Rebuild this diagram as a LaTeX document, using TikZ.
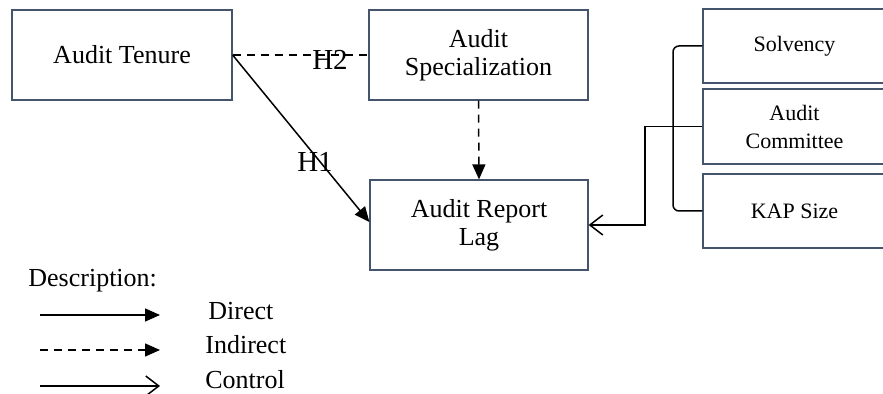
\documentclass[tikz,border=0pt]{standalone}
\usepackage{fontspec}
\setmainfont{Liberation Serif}
\usetikzlibrary{arrows.meta,calc}
\definecolor{boxline}{HTML}{44546A}
\begin{document}
\begin{tikzpicture}[x=0.5pt,y=-0.5pt,
  varbox/.style={draw=boxline,line width=0.6pt,rectangle,inner sep=0pt,align=center,
    font=\fontsize{13}{14}\selectfont},
  ctrlbox/.style={varbox,font=\fontsize{11}{14}\selectfont,
    minimum width=91.5pt},
  link/.style={line width=0.75pt,black},
  fillhead/.style={-{Triangle[length=7.5pt,width=6.5pt]}},
  openhead/.style={-{Straight Barb[length=6.5pt,width=10pt,line width=0.75pt]}},
  hyp/.style={font=\fontsize{14.5}{16}\selectfont,inner sep=0pt},
  legtext/.style={font=\fontsize{13}{14}\selectfont,inner sep=0pt}]
  \useasboundingbox (0,0) rectangle (883,394);

  % main variables
  \node[varbox,minimum width=110pt,minimum height=45pt] (tenure) at (122,55) {Audit Tenure};
  \node[varbox,minimum width=109.5pt,minimum height=45pt] (spec) at (478.5,55) {Audit\\Specialization};
  \node[varbox,minimum width=109pt,minimum height=45pt] (lag) at (479,225) {Audit Report\\Lag};

  % control variables
  \node[ctrlbox,minimum height=37pt] (solv) at (794.5,46) {Solvency};
  \node[ctrlbox,minimum height=37.5pt] (comm) at (794.5,126.5) {Audit\\Committee};
  \node[ctrlbox,minimum height=37pt] (kap) at (794.5,211) {KAP Size};

  % hypotheses
  \draw[link,fillhead] (tenure.east) -- ($(lag.west)+(0,-3)$);
  \draw[link,dashed,dash pattern=on 4pt off 3pt] (tenure.east) -- (spec.west);
  \draw[link,dashed,dash pattern=on 4pt off 3pt,fillhead] (spec.south) -- (lag.north);
  \node[hyp] (h1) at (315,162) {H1};
  \node[hyp] (h2) at (330,60) {H2};

  % control bracket and arrow
  \coordinate (bt) at (673,46);
  \coordinate (bb) at (673,211);
  \draw[link,rounded corners=3pt] (solv.west) -- (bt) -- (bb) -- (kap.west);
  \coordinate (c1) at (645,126.5);
  \coordinate (c2) at (645,225);
  \draw[link,openhead] (comm.west) -- (c1) -- (c2) -- (lag.east);

  % legend
  \node[legtext,anchor=base west] (desc) at (28,287) {Description:};
  \coordinate (l1a) at (40,315); \coordinate (l1b) at (160,315);
  \coordinate (l2a) at (40,350); \coordinate (l2b) at (160,350);
  \coordinate (l3a) at (40,386); \coordinate (l3b) at (160,386);
  \draw[link,fillhead] (l1a) -- (l1b);
  \draw[link,dashed,dash pattern=on 4pt off 3pt,fillhead] (l2a) -- (l2b);
  \draw[link,openhead] (l3a) -- (l3b);
  \node[legtext,anchor=base west] (ld) at (208,320) {Direct};
  \node[legtext,anchor=base west] (li) at (205,354) {Indirect};
  \node[legtext,anchor=base west] (lc) at (205,389) {Control};
\end{tikzpicture}
\end{document}
